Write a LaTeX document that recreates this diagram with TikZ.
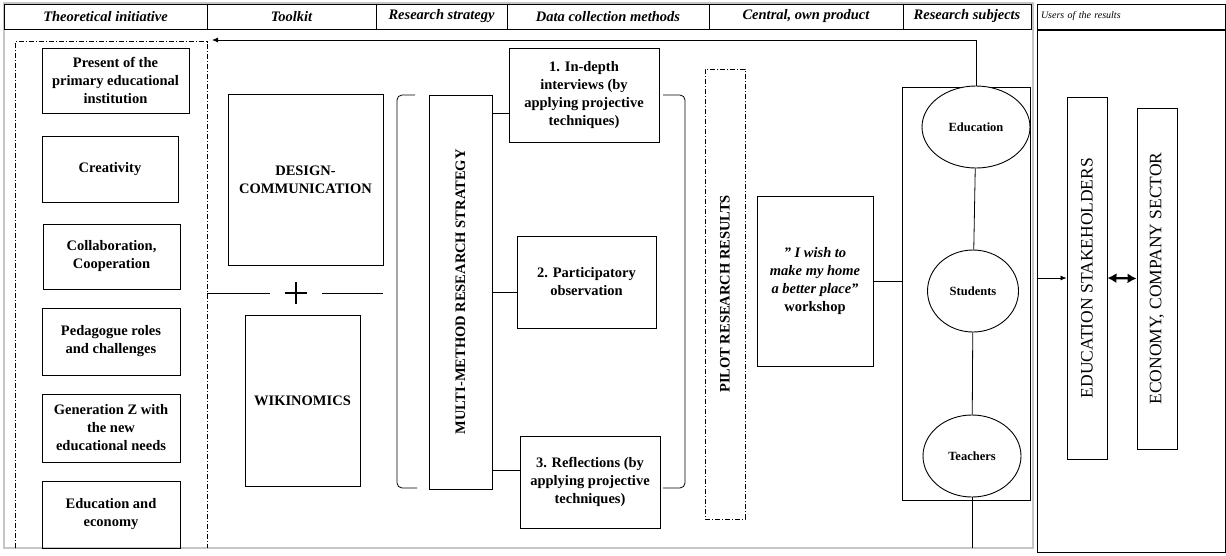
\documentclass[tikz,border=0pt]{standalone}
\usepackage{fontspec}
\setmainfont{Liberation Serif}
\usepackage{tikz}
\usetikzlibrary{arrows.meta,shapes.geometric}

\newcommand{\boxfont}{\fontsize{14.5}{18}\selectfont\bfseries}
\newcommand{\headfont}{\fontsize{14.5}{16}\selectfont\bfseries\itshape}
\newcommand{\usersfont}{\fontsize{10}{12}\selectfont\itshape}
\newcommand{\subjfont}{\fontsize{12.5}{15}\selectfont\bfseries}
\newcommand{\stakefont}{\fontsize{17.5}{20}\selectfont}

\begin{document}
\begin{tikzpicture}[x=1pt,y=-1pt,
  box/.style={draw, line width=0.9pt, align=center, inner sep=2pt, font=\boxfont},
  headcell/.style={draw, line width=0.9pt, minimum height=25pt, inner sep=0pt, font=\headfont},
  subj/.style={draw, ellipse, fill=white, line width=0.9pt, minimum height=82pt, inner sep=0pt, font=\subjfont},
  dashdot/.style={line width=0.8pt, dash pattern=on 5pt off 2pt on 1pt off 2pt},
  link/.style={line width=0.8pt}]

\useasboundingbox (0,0) rectangle (1226,555);

% outer frame
\draw[gray!45, line width=1.5pt] (4,3) rectangle (1033,548);

% header row
\node[headcell, minimum width=203pt] (hTheo) at (105.5,16.5) {Theoretical initiative};
\node[headcell, minimum width=169pt] (hTool) at (291.5,16.5) {Toolkit};
\node[headcell, minimum width=131pt] (hStrat) at (441.5,16.5) {Research strategy};
\node[headcell, minimum width=202pt] (hData) at (608,16.5) {Data collection methods};
\node[headcell, minimum width=194pt] (hProd) at (806,16.5) {Central, own product};
\node[headcell, minimum width=128pt] (hSubj) at (967,16.5) {Research subjects};
\node[headcell, minimum width=188pt, text width=180pt, align=left, font=\usersfont] (hUsers) at (1131,16.5) {Users of the results};
\node[draw, line width=0.9pt, minimum width=188pt, minimum height=522pt] (users) at (1131,291) {};

% theoretical initiative
\node[minimum width=191pt, minimum height=506pt, inner sep=0pt] (theory) at (111.5,295) {};
\draw[dashdot] (theory.south west) -- (theory.north west) -- (theory.north east) -- (theory.south east);

\node[box, minimum width=147pt, minimum height=65pt] (present) at (115.5,80.5) {Present of the\\primary educational\\institution};
\node[box, minimum width=136pt, minimum height=66pt] (creat) at (110,169) {Creativity};
\node[box, minimum width=137pt, minimum height=65pt] (collab) at (111.5,256.5) {Collaboration,\\Cooperation};
\node[box, minimum width=138pt, minimum height=67pt] (pedag) at (111,341.5) {Pedagogue roles\\and challenges};
\node[box, minimum width=138pt, minimum height=68pt] (genz) at (111,428) {Generation Z with\\the new\\educational needs};
\node[box, minimum width=138pt, minimum height=67pt] (educeco) at (111,514.5) {Education and\\economy};

% toolkit
\node[box, minimum width=155pt, minimum height=171pt] (design) at (305.5,179.5) {DESIGN-\\COMMUNICATION};
\node[box, minimum width=115pt, minimum height=171pt] (wiki) at (302.5,400.5) {WIKINOMICS};
\node[minimum width=52pt, minimum height=24pt, inner sep=0pt] (plus) at (296,293) {};
\draw[line width=2pt] ([xshift=-11pt]plus.center) -- ([xshift=11pt]plus.center)
  ([yshift=-11pt]plus.center) -- ([yshift=11pt]plus.center);
\draw[link] (theory.east |- plus) -- (plus.west);
\draw[link] (plus.east) -- (design.east |- plus);

% research strategy
\draw[link, rounded corners=5pt] (415,95) -| (397,488) -- (417,488);
\draw[link, rounded corners=5pt] (663,95) -| (685,488) -- (663,488);
\node[box, minimum width=63pt, minimum height=394pt, inner sep=0pt] (mrs) at (460.5,292) {\rotatebox{90}{MULTI-METHOD RESEARCH STRATEGY}};

% data collection methods
\node[box, minimum width=150pt, minimum height=94pt] (m1) at (584,95) {1. In-depth\\interviews (by\\applying projective\\techniques)};
\node[box, minimum width=139pt, minimum height=92pt] (m2) at (586.5,282) {2. Participatory\\observation};
\node[box, minimum width=140pt, minimum height=92pt] (m3) at (590,482) {3. Reflections (by\\applying projective\\techniques)};
\coordinate (k1) at ([yshift=-18pt]m1.west);
\coordinate (k2) at ([yshift=-10pt]m2.west);
\coordinate (k3) at ([yshift=12pt]m3.west);
\draw[link] (mrs.east |- k1) -- (k1);
\draw[link] (mrs.east |- k2) -- (k2);
\draw[link] (mrs.east |- k3) -- (k3);

% central product
\node[draw, dashdot, minimum width=40pt, minimum height=450pt, inner sep=0pt, font=\boxfont] (pilot) at (725,294) {\rotatebox{90}{PILOT RESEARCH RESULTS}};
\node[box, minimum width=116pt, minimum height=170pt] (shop) at (815,281) {\textit{” I wish to}\\\textit{make my home}\\\textit{a better place”}\\workshop};

% research subjects
\node[draw, line width=0.9pt, minimum width=128pt, minimum height=413pt] (subjects) at (966,293.5) {};
\draw[link] (shop.east) -- (subjects.west |- shop.east);
\node[subj, minimum width=108pt] (edu) at (976,127) {Education};
\node[subj, minimum width=91pt] (stud) at (973,291) {Students};
\node[subj, minimum width=98pt] (teach) at (972,456) {Teachers};
\draw[link] (edu) -- (stud) (stud) -- (teach);
\coordinate (backtip) at (212,40);
\draw[link, -{Latex[length=6pt,width=5pt]}] (edu.north) |- (backtip);
\coordinate (subfoot) at (972,548);
\draw[link] (teach.south) -- (subfoot);

% users of the results
\node[draw, line width=0.9pt, minimum width=40pt, minimum height=362pt, inner sep=0pt, font=\stakefont] (stake) at (1087,278) {\rotatebox{90}{EDUCATION STAKEHOLDERS}};
\node[draw, line width=0.9pt, minimum width=40pt, minimum height=341pt, inner sep=0pt, font=\stakefont] (econ) at (1157,278.5) {\rotatebox{90}{ECONOMY, COMPANY SECTOR}};
\draw[link, -{Latex[length=6pt,width=5pt]}] (users.west |- stake) -- (stake.west);
\draw[line width=2.2pt, {Latex[length=9pt,width=10pt]}-{Latex[length=9pt,width=10pt]}] (stake.east) -- (econ.west);

\end{tikzpicture}
\end{document}
